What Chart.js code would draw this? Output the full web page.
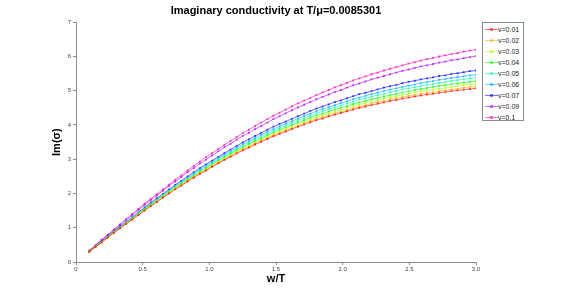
<!DOCTYPE html>
<html>
<head>
<meta charset="utf-8">
<script src="https://cdn.jsdelivr.net/npm/chart.js@4.4.0/dist/chart.umd.min.js"></script>
<style>
  body { margin: 0; background: #fff; }
  #wrap { position: relative; width: 581px; height: 294px; font-family: "Liberation Sans", Arial, Helvetica, sans-serif; }
  #legend { position: absolute; left: 482px; top: 22px; width: 42px; height: 99px; border: 1px solid #8a8a8a; background: #fff; box-sizing: border-box; }
  .row { position: absolute; left: 0; height: 11px; width: 42px; font-size: 7px; line-height: 11px; color: #222; }
  .row .ln { position: absolute; left: 2px; top: 5px; width: 13px; height: 1px; }
  .row .mk { position: absolute; left: 7px; top: 4px; width: 3px; height: 3px; }
  .row .tx { position: absolute; left: 15px; top: 0; }
</style>
</head>
<body>
<div id="wrap">
  <canvas id="chart" width="581" height="294"></canvas>
  <div id="legend"></div>
</div>
<script>
// w/T sample points
const wT = [0.100,0.146,0.192,0.238,0.284,0.330,0.376,0.422,0.468,0.514,0.560,0.606,0.652,0.698,0.744,0.790,
  0.837,0.883,0.929,0.975,1.021,1.067,1.113,1.159,1.205,1.251,1.297,1.343,1.389,1.435,1.481,1.527,
  1.573,1.619,1.665,1.711,1.757,1.803,1.849,1.895,1.941,1.987,2.033,2.079,2.125,2.171,2.217,2.263,
  2.309,2.356,2.402,2.448,2.494,2.540,2.586,2.632,2.678,2.724,2.770,2.816,2.862,2.908,2.954,3.000];

// Im(sigma) for each v
const imV001 = [0.30,0.44,0.57,0.71,0.85,0.98,1.11,1.24,1.37,1.50,1.63,1.75,1.88,2.00,2.12,2.23,
  2.35,2.46,2.57,2.67,2.78,2.88,2.98,3.07,3.17,3.26,3.34,3.43,3.51,3.59,3.67,3.74,
  3.81,3.88,3.95,4.01,4.08,4.14,4.19,4.25,4.30,4.35,4.40,4.45,4.50,4.54,4.58,4.62,
  4.66,4.70,4.73,4.77,4.80,4.83,4.86,4.89,4.91,4.94,4.96,4.99,5.01,5.03,5.05,5.07];
const imV002 = [0.30,0.44,0.57,0.71,0.86,0.99,1.12,1.25,1.38,1.51,1.64,1.76,1.89,2.01,2.13,2.25,
  2.37,2.48,2.59,2.69,2.80,2.90,3.00,3.09,3.19,3.29,3.37,3.46,3.54,3.62,3.70,3.77,
  3.84,3.91,3.98,4.05,4.12,4.18,4.23,4.29,4.34,4.39,4.44,4.49,4.54,4.58,4.63,4.67,
  4.71,4.75,4.78,4.82,4.85,4.88,4.91,4.94,4.96,4.99,5.01,5.04,5.06,5.09,5.11,5.12];
const imV003 = [0.30,0.45,0.58,0.72,0.86,0.99,1.13,1.26,1.39,1.52,1.65,1.78,1.91,2.03,2.15,2.26,
  2.39,2.50,2.61,2.71,2.83,2.93,3.03,3.12,3.23,3.32,3.40,3.49,3.57,3.66,3.74,3.81,
  3.88,3.96,4.03,4.09,4.16,4.22,4.28,4.34,4.39,4.44,4.50,4.55,4.60,4.64,4.68,4.72,
  4.77,4.81,4.84,4.88,4.91,4.95,4.98,5.01,5.03,5.06,5.08,5.11,5.14,5.16,5.18,5.20];
const imV004 = [0.31,0.45,0.58,0.73,0.87,1.00,1.14,1.27,1.40,1.54,1.67,1.79,1.92,2.05,2.17,2.29,
  2.41,2.52,2.64,2.74,2.85,2.96,3.06,3.16,3.26,3.35,3.44,3.53,3.61,3.70,3.78,3.86,
  3.93,4.00,4.08,4.14,4.21,4.28,4.33,4.39,4.45,4.50,4.55,4.61,4.66,4.70,4.75,4.79,
  4.83,4.87,4.91,4.95,4.98,5.02,5.05,5.08,5.11,5.14,5.16,5.19,5.21,5.24,5.26,5.28];
const imV005 = [0.31,0.45,0.59,0.73,0.88,1.01,1.15,1.28,1.42,1.55,1.69,1.81,1.95,2.07,2.20,2.31,
  2.44,2.55,2.67,2.78,2.89,3.00,3.10,3.20,3.30,3.40,3.48,3.58,3.66,3.75,3.83,3.91,
  3.99,4.06,4.14,4.20,4.27,4.34,4.40,4.46,4.52,4.57,4.63,4.68,4.74,4.78,4.83,4.87,
  4.91,4.96,4.99,5.04,5.07,5.10,5.14,5.17,5.20,5.23,5.25,5.29,5.31,5.33,5.36,5.38];
const imV006 = [0.31,0.46,0.60,0.74,0.89,1.02,1.16,1.30,1.43,1.57,1.70,1.83,1.96,2.09,2.22,2.34,
  2.46,2.58,2.70,2.81,2.92,3.03,3.14,3.23,3.34,3.44,3.52,3.62,3.71,3.80,3.88,3.96,
  4.04,4.11,4.19,4.26,4.33,4.40,4.46,4.52,4.58,4.64,4.69,4.75,4.80,4.85,4.90,4.94,
  4.99,5.03,5.07,5.11,5.15,5.18,5.22,5.25,5.28,5.32,5.34,5.37,5.40,5.42,5.45,5.47];
const imV007 = [0.32,0.46,0.61,0.75,0.90,1.04,1.17,1.31,1.45,1.59,1.73,1.86,1.99,2.12,2.25,2.37,
  2.50,2.62,2.74,2.85,2.96,3.07,3.18,3.28,3.39,3.49,3.58,3.68,3.77,3.86,3.95,4.03,
  4.10,4.18,4.26,4.33,4.41,4.48,4.54,4.60,4.67,4.72,4.78,4.84,4.90,4.94,4.99,5.04,
  5.09,5.13,5.17,5.22,5.26,5.29,5.33,5.36,5.39,5.43,5.45,5.49,5.51,5.54,5.57,5.59];
const imV009 = [0.33,0.48,0.64,0.78,0.93,1.08,1.23,1.37,1.52,1.67,1.80,1.94,2.08,2.22,2.35,2.48,
  2.62,2.74,2.87,2.99,3.11,3.23,3.35,3.45,3.57,3.68,3.77,3.88,3.97,4.07,4.17,4.25,
  4.34,4.43,4.51,4.59,4.67,4.75,4.82,4.89,4.96,5.02,5.09,5.16,5.21,5.27,5.33,5.38,
  5.43,5.48,5.53,5.58,5.62,5.66,5.71,5.74,5.78,5.82,5.85,5.89,5.91,5.95,5.98,6.01];
const imV010 = [0.34,0.49,0.65,0.80,0.95,1.10,1.25,1.40,1.55,1.70,1.84,1.98,2.12,2.26,2.40,2.53,
  2.67,2.80,2.93,3.06,3.18,3.30,3.42,3.53,3.65,3.76,3.86,3.97,4.07,4.17,4.27,4.36,
  4.45,4.54,4.63,4.71,4.79,4.87,4.95,5.02,5.10,5.16,5.23,5.30,5.36,5.42,5.48,5.53,
  5.59,5.64,5.69,5.74,5.79,5.83,5.88,5.92,5.96,6.00,6.03,6.07,6.10,6.14,6.17,6.20];

const seriesLabels = ['v=0.01','v=0.02','v=0.03','v=0.04','v=0.05','v=0.06','v=0.07','v=0.09','v=0.1'];
const seriesColors = ['255,0,0','255,170,0','170,255,0','0,255,0','0,255,170','0,170,255','0,0,255','170,0,255','255,0,170'];
const seriesData = [imV001, imV002, imV003, imV004, imV005, imV006, imV007, imV009, imV010];

const xTicks = [0, 0.5, 1, 1.5, 2, 2.5, 3];
const yTicks = [0, 1, 2, 3, 4, 5, 6, 7];

const datasets = seriesData.map((vals, i) => ({
  label: seriesLabels[i],
  data: vals.map((y, j) => ({ x: wT[j], y: y })),
  borderColor: 'rgba(' + seriesColors[i] + ',0.6)',
  backgroundColor: 'rgba(' + seriesColors[i] + ',0.7)',
  borderWidth: 1,
  pointRadius: 1.3,
  pointBorderWidth: 0,
  pointStyle: 'rect',
  tension: 0,
  fill: false
}));

const axisColor = '#8c8c8c';
const fontFamily = '"Liberation Sans", Arial, Helvetica, sans-serif';

new Chart(document.getElementById('chart'), {
  type: 'line',
  data: { datasets: datasets },
  options: {
    responsive: false,
    animation: false,
    layout: { padding: { left: 46, right: 105, top: 0, bottom: 0 } },
    scales: {
      x: {
        type: 'linear',
        min: 0,
        max: 3,
        afterBuildTicks: s => { s.ticks = xTicks.map(v => ({ value: v })); },
        afterFit: s => { s.height = 32; },
        ticks: { font: { size: 6, family: fontFamily }, color: '#444', padding: 1, maxRotation: 0 },
        grid: { drawOnChartArea: false, tickLength: 3, color: axisColor },
        border: { color: axisColor },
        title: { display: true, text: 'w/T', font: { size: 11, weight: 'bold', family: fontFamily }, color: '#000', padding: { top: 0, bottom: 8 } }
      },
      y: {
        min: 0,
        max: 7,
        afterBuildTicks: s => { s.ticks = yTicks.map(v => ({ value: v })); },
        afterFit: s => { s.width = 30; },
        ticks: { font: { size: 6, family: fontFamily }, color: '#444', padding: 2 },
        grid: { drawOnChartArea: false, tickLength: 3, color: axisColor },
        border: { color: axisColor },
        title: { display: true, text: 'Im(σ)', font: { size: 11, weight: 'bold', family: fontFamily }, color: '#000', padding: { top: 4, bottom: 0 } }
      }
    },
    plugins: {
      legend: { display: false },
      tooltip: { enabled: false },
      title: {
        display: true,
        fullSize: false,
        text: 'Imaginary conductivity at T/μ=0.0085301',
        font: { size: 11, weight: 'bold', family: fontFamily },
        color: '#000',
        padding: { top: 4, bottom: 5 }
      }
    }
  }
});

// Legend box
const legend = document.getElementById('legend');
seriesLabels.forEach((label, i) => {
  const row = document.createElement('div');
  row.className = 'row';
  row.style.top = (1 + i * 10.97) + 'px';
  const c = 'rgba(' + seriesColors[i] + ',0.55)';
  row.innerHTML = '<div class="ln" style="background:' + c + '"></div>' +
    '<div class="mk" style="background:' + c + '"></div>' +
    '<span class="tx">' + label + '</span>';
  legend.appendChild(row);
});
</script>
</body>
</html>
